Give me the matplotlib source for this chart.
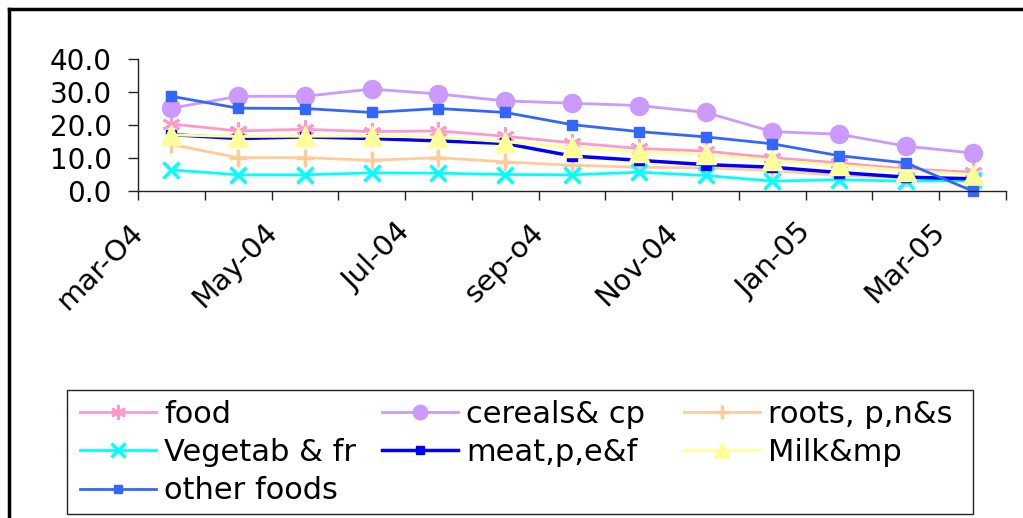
import matplotlib
matplotlib.use("Agg")
import matplotlib.pyplot as plt
import matplotlib.transforms as mtransforms
from matplotlib.lines import Line2D
from matplotlib.patches import Rectangle
from matplotlib.ticker import FormatStrFormatter

plt.rcParams['font.family'] = ['DejaVu Sans']

months = ["mar-04", "apr-04", "may-04", "jun-04", "jul-04", "aug-04", "sep-04",
          "oct-04", "nov-04", "dec-04", "jan-05", "feb-05", "mar-05"]
tick_labels = ["mar-O4", "May-04", "Jul-04", "sep-o4", "Nov-04", "Jan-05", "Mar-05"]

food = [20.3, 18.2, 18.7, 18.0, 18.2, 16.6, 14.6, 12.9, 12.1, 10.1, 8.5, 6.7, 5.7]
cereals = [25.1, 28.7, 28.7, 30.9, 29.4, 27.3, 26.6, 25.9, 23.8, 18.0, 17.2, 13.6, 11.5]
roots = [14.1, 10.1, 10.1, 9.3, 10.1, 8.8, 7.8, 7.2, 7.0, 6.2, 4.7, 4.0, 2.7]
vegetab = [6.4, 4.9, 4.9, 5.5, 5.4, 5.0, 4.9, 5.7, 4.7, 3.0, 3.4, 3.0, 3.2]
meat = [17.1, 15.9, 16.4, 15.9, 15.2, 14.4, 10.6, 9.3, 8.0, 7.2, 5.6, 4.2, 3.7]
milk = [17.0, 16.5, 16.6, 16.6, 16.3, 14.9, 13.2, 11.8, 11.1, 9.3, 7.8, 6.2, 5.0]
other = [28.7, 25.1, 25.0, 23.8, 25.0, 23.8, 20.1, 18.0, 16.4, 14.3, 10.7, 8.5, 0.0]

W, H = 1023, 518
fig = plt.figure(figsize=(W / 100, H / 100), dpi=100)
ax = fig.add_axes([138 / W, 1 - 191 / H, (1006 - 138) / W, (191 - 59) / H])

x = list(range(len(months)))

series = [
    ("food", food, dict(color="#FF99CC", marker=(6, 2, 0), ms=13, mew=2.0, lw=2.0)),
    ("cereals& cp", cereals, dict(color="#CC99FF", marker="o", ms=13, lw=2.0)),
    ("roots, p,n&s", roots, dict(color="#FFCC99", marker="+", ms=13, mew=2.5, lw=2.0)),
    ("Vegetab & fr", vegetab, dict(color="#00FFFF", marker="x", ms=12, mew=2.5, lw=2.0)),
    ("meat,p,e&f", meat, dict(color="#0000FF", marker="s", ms=7, lw=2.5)),
    ("Milk&mp", milk, dict(color="#FFFF99", marker="^", ms=14, lw=2.0)),
    ("other foods", other, dict(color="#3366FF", marker="s", ms=7.5, lw=2.0)),
]

handles = {}
for name, vals, st in series:
    ln, = ax.plot(x, vals, color=st["color"], marker=st["marker"], markersize=st["ms"],
                  markeredgewidth=st.get("mew", 1.0), markeredgecolor=st["color"],
                  markerfacecolor=st["color"], linewidth=st["lw"], label=name,
                  clip_on=False)
    handles[name] = ln

ax.set_xlim(-0.5, len(months) - 0.5)
ax.set_ylim(0, 40)
ax.set_yticks([0, 10, 20, 30, 40])
ax.yaxis.set_major_formatter(FormatStrFormatter("%.1f"))
for s in ["top", "right"]:
    ax.spines[s].set_visible(False)
for s in ["left", "bottom"]:
    ax.spines[s].set_color("#222222")
    ax.spines[s].set_linewidth(1.0)

bounds = [i - 0.5 for i in range(len(months) + 1)]
ax.set_xticks(bounds)
labels_full = []
for i in range(len(bounds)):
    if i % 2 == 0 and i // 2 < len(tick_labels):
        labels_full.append(tick_labels[i // 2])
    else:
        labels_full.append("")
ax.set_xticklabels(labels_full)
ax.tick_params(axis="x", direction="out", length=6.5, width=1.0, color="#222222",
               pad=20, labelsize=21)
ax.tick_params(axis="y", direction="out", length=7, width=1.0, color="#222222",
               pad=12, labelsize=20)
offset = mtransforms.ScaledTranslation(1 / 100, 0, fig.dpi_scale_trans)
for lab in ax.get_xticklabels():
    lab.set_rotation(45)
    lab.set_rotation_mode("anchor")
    lab.set_ha("right")
    lab.set_va("center")
    lab.set_transform(lab.get_transform() + offset)

# legend: three columns laid out row-wise
cols = [["food", "Vegetab & fr", "other foods"],
        ["cereals& cp", "meat,p,e&f"],
        ["roots, p,n&s", "Milk&mp"]]
col_x = [80, 382, 684]
for names, cx in zip(cols, col_x):
    fig.legend([handles[n] for n in names], names, loc="upper left",
               bbox_to_anchor=(cx / W, 1 - 400 / H), frameon=False, borderpad=0,
               borderaxespad=0, fontsize=22, handlelength=2.5, handletextpad=0.25,
               labelspacing=0.3, markerscale=0.8)

fig.add_artist(Rectangle((67 / W, 1 - 514 / H), (973 - 67) / W, (514 - 390) / H,
                         transform=fig.transFigure, fill=False, edgecolor="#222222",
                         linewidth=1.0))
# outer chart border
fig.add_artist(Line2D([9 / W, 9 / W], [1 - 9 / H, -0.02], transform=fig.transFigure,
                      color="black", linewidth=2.5))
fig.add_artist(Line2D([9 / W, 1.02], [1 - 9 / H, 1 - 9 / H], transform=fig.transFigure,
                      color="black", linewidth=2.5))

fig.savefig("out.png", dpi=100)
